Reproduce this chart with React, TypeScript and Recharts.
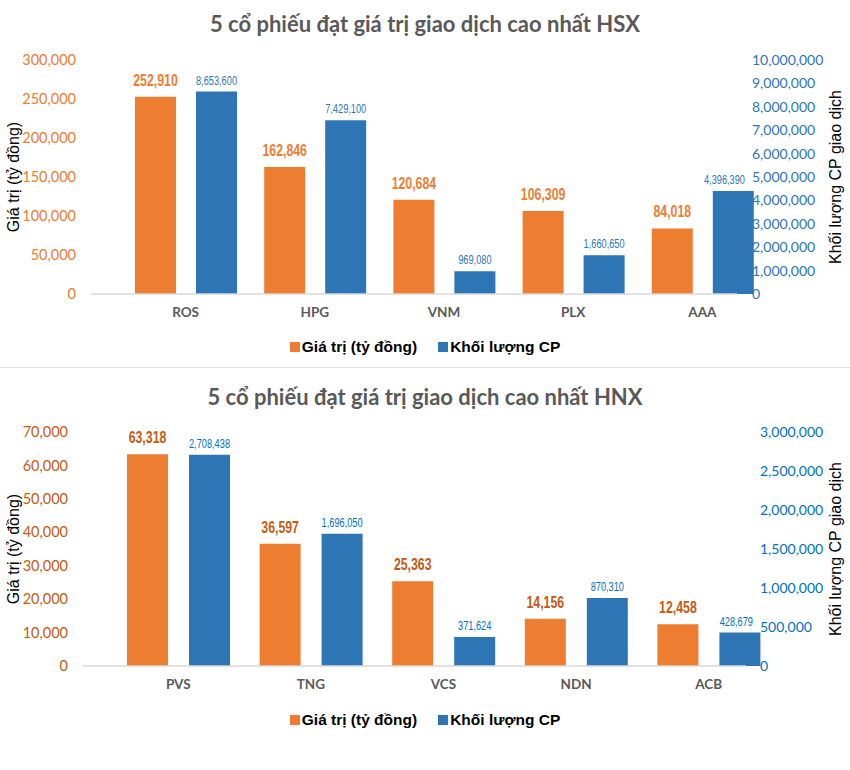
import React from 'react';
import { BarChart, Bar, XAxis, YAxis, Legend, LabelList } from 'recharts';

// HSX top 5
const hsxCodes = ['ROS', 'HPG', 'VNM', 'PLX', 'AAA'];
const hsxValue = [252910, 162846, 120684, 106309, 84018];
const hsxVolume = [8653600, 7429100, 969080, 1660650, 4396390];
const hsxValueTicks = [0, 50000, 100000, 150000, 200000, 250000, 300000];
const hsxVolumeTicks = [0, 1000000, 2000000, 3000000, 4000000, 5000000, 6000000, 7000000, 8000000, 9000000, 10000000];

// HNX top 5
const hnxCodes = ['PVS', 'TNG', 'VCS', 'NDN', 'ACB'];
const hnxValue = [63318, 36597, 25363, 14156, 12458];
const hnxVolume = [2708438, 1696050, 371624, 870310, 428679];
const hnxValueTicks = [0, 10000, 20000, 30000, 40000, 50000, 60000, 70000];
const hnxVolumeTicks = [0, 500000, 1000000, 1500000, 2000000, 2500000, 3000000];

const ORANGE = '#ED7D31';
const BLUE = '#2E75B6';
const fmt = (v: any) => Number(v).toLocaleString('en-US');

// narrow-looking value label (no condensed font installed, so squeeze it horizontally)
function NarrowLabel(props: any) {
  const vb = props.viewBox || props;
  const { value, textColor, size, bold, squeeze, lift, maxRight } = props;
  if (vb.x == null || value == null) return null;
  const s = fmt(value);
  // Liberation Sans digits are 0.556em, commas 0.278em
  const natural = s.split('').reduce((a: number, c: string) => a + (c === ',' ? 0.278 : 0.556), 0) * size;
  const len = natural * squeeze;
  // keep labels clear of the right-hand tick labels
  const cx = Math.min(vb.x + vb.width / 2, maxRight - len / 2);
  return (
    <g transform={`translate(${cx} ${vb.y - lift}) scale(${squeeze} 1)`}>
      <text
        x={0}
        y={0}
        textAnchor="middle"
        fill={textColor}
        fontSize={size}
        fontWeight={bold ? 'bold' : 'normal'}
        fontFamily="'Liberation Sans', Arial, sans-serif"
      >
        {s}
      </text>
    </g>
  );
}

function SideLabel({ viewBox, text, dx }: any) {
  if (!viewBox) return null;
  const cx = viewBox.x + dx;
  const cy = viewBox.y + viewBox.height / 2;
  return (
    <text
      x={cx}
      y={cy}
      transform={`rotate(-90 ${cx} ${cy})`}
      textAnchor="middle"
      dominantBaseline="central"
      fontFamily="'Liberation Sans', Arial, sans-serif"
      fontSize={16}
      fill="#000"
    >
      {text}
    </text>
  );
}

function renderLegend(props: any) {
  const { payload } = props;
  return (
    <div style={{ display: 'flex', justifyContent: 'center', gap: 21 }}>
      {payload.map((e: any) => (
        <span
          key={e.value}
          style={{
            display: 'flex',
            alignItems: 'center',
            fontFamily: "'Liberation Sans', Arial, sans-serif",
            fontWeight: 'bold',
            fontSize: 15.5,
            color: '#000',
          }}
        >
          <span style={{ width: 10, height: 10, background: e.color, display: 'inline-block', marginRight: 2 }} />
          {e.value}
        </span>
      ))}
    </div>
  );
}

interface PanelProps {
  title: string;
  codes: string[];
  values: number[];
  volumes: number[];
  valueTicks: number[];
  volumeTicks: number[];
  top: number;
  height: number;
  plotTop: number;
  plotBottom: number;
  plotLeft: number;
  plotRight: number;
  shift: number;
  barSize: number;
  barGap: number;
  titleTop: number;
  legendTop: number;
  leftTickColor: string;
  rightTickColor: string;
  valueLabelColor: string;
  volumeLabelColor: string;
  rightTickGap: number;
}

function MarketPanel(p: PanelProps) {
  const data = p.codes.map((code, i) => ({ code, value: p.values[i], volume: p.volumes[i] }));
  const xAxisHeight = 30;
  const labelLimit = p.plotRight + 6 + p.rightTickGap - 7;
  return (
    <div style={{ position: 'absolute', left: 0, top: p.top, width: 850, height: p.height }}>
      <div
        style={{
          position: 'absolute',
          left: 0,
          top: p.titleTop,
          width: 850,
          textAlign: 'center',
          fontFamily: 'Lato, sans-serif',
          fontWeight: 'bold',
          fontSize: 22,
          lineHeight: '28px',
          color: '#595959',
        }}
      >
        {p.title}
      </div>
      <BarChart
        width={850}
        height={p.height}
        data={data}
        barSize={p.barSize}
        barGap={p.barGap}
        margin={{ top: p.plotTop, right: 0, left: 0, bottom: p.height - p.plotBottom - xAxisHeight }}
      >
        <XAxis
          dataKey="code"
          height={xAxisHeight}
          padding={{ left: p.shift, right: -p.shift }}
          axisLine={{ stroke: '#D9D9D9', strokeWidth: 1.5 }}
          tickLine={false}
          tickMargin={7}
          tick={{ fill: '#595959', fontSize: 13.5, fontWeight: 'bold', fontFamily: 'Lato, sans-serif' }}
        />
        <YAxis
          yAxisId="left"
          orientation="left"
          width={p.plotLeft}
          domain={[p.valueTicks[0], p.valueTicks[p.valueTicks.length - 1]]}
          ticks={p.valueTicks}
          interval={0}
          axisLine={false}
          tickLine={false}
          tickMargin={9}
          tickFormatter={fmt}
          tick={{ fill: p.leftTickColor, fontSize: 14.5, fontFamily: 'Lato, sans-serif' }}
          label={<SideLabel text="Giá trị (tỷ đồng)" dx={13} />}
        />
        <YAxis
          yAxisId="right"
          orientation="right"
          width={850 - p.plotRight}
          domain={[p.volumeTicks[0], p.volumeTicks[p.volumeTicks.length - 1]]}
          ticks={p.volumeTicks}
          interval={0}
          axisLine={false}
          tickLine={false}
          tickMargin={p.rightTickGap}
          tickFormatter={fmt}
          tick={{ fill: p.rightTickColor, fontSize: 14, fontFamily: 'Lato, sans-serif', textAnchor: 'start' }}
          label={<SideLabel text="Khối lượng CP giao dịch" dx={850 - p.plotRight - 15} />}
        />
        <Legend
          layout="horizontal"
          align="center"
          verticalAlign="middle"
          content={renderLegend}
          wrapperStyle={{ top: p.legendTop, left: 0, width: 850 }}
        />
        <Bar yAxisId="left" dataKey="value" name="Giá trị (tỷ đồng)" fill={ORANGE} isAnimationActive={false}>
          <LabelList
            dataKey="value"
            position="top"
            content={
              <NarrowLabel
                textColor={p.valueLabelColor}
                size={16}
                bold
                squeeze={0.77}
                lift={11}
                maxRight={labelLimit}
              />
            }
          />
        </Bar>
        <Bar yAxisId="right" dataKey="volume" name="Khối lượng CP" fill={BLUE} isAnimationActive={false}>
          <LabelList
            dataKey="volume"
            position="top"
            content={
              <NarrowLabel
                textColor={p.volumeLabelColor}
                size={13}
                squeeze={0.71}
                lift={7}
                maxRight={labelLimit}
              />
            }
          />
        </Bar>
      </BarChart>
    </div>
  );
}

export default function App() {
  return (
    <div style={{ position: 'absolute', left: 0, top: 0, width: 850, height: 770, background: '#fff', overflow: 'hidden' }}>
      <MarketPanel
        title="5 cổ phiếu đạt giá trị giao dịch cao nhất HSX"
        codes={hsxCodes}
        values={hsxValue}
        volumes={hsxVolume}
        valueTicks={hsxValueTicks}
        volumeTicks={hsxVolumeTicks}
        top={0}
        height={368}
        plotTop={60}
        plotBottom={294}
        plotLeft={91}
        plotRight={737}
        shift={30}
        barSize={41}
        barGap={20}
        titleTop={10}
        legendTop={338}
        leftTickColor={ORANGE}
        rightTickColor="#2E75B6"
        valueLabelColor={ORANGE}
        volumeLabelColor="#2E75B6"
        rightTickGap={9}
      />
      <div style={{ position: 'absolute', left: 0, top: 367, width: 850, height: 0, borderTop: '1.5px solid #E0E0E0' }} />
      <MarketPanel
        title="5 cổ phiếu đạt giá trị giao dịch cao nhất HNX"
        codes={hnxCodes}
        values={hnxValue}
        volumes={hnxVolume}
        valueTicks={hnxValueTicks}
        volumeTicks={hnxVolumeTicks}
        top={368}
        height={402}
        plotTop={64}
        plotBottom={298}
        plotLeft={83}
        plotRight={746}
        shift={29}
        barSize={41}
        barGap={21}
        titleTop={15}
        legendTop={343}
        leftTickColor="#C55A11"
        rightTickColor="#0070C0"
        valueLabelColor="#C55A11"
        volumeLabelColor="#0070C0"
        rightTickGap={8}
      />
    </div>
  );
}
